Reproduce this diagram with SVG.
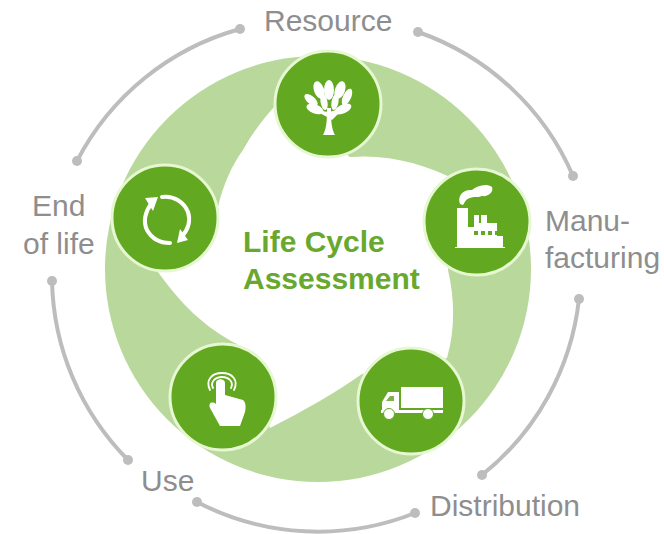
<svg xmlns="http://www.w3.org/2000/svg" width="664" height="534" viewBox="0 0 664 534">
<style>
.lbl{font-family:"Liberation Sans",Arial,sans-serif;font-size:30px;fill:#8e8e8e}
.title{font-family:"Liberation Sans",Arial,sans-serif;font-size:30px;font-weight:bold;fill:#69a82f}
.arc{fill:none;stroke:#bdbdbd;stroke-width:4;stroke-linecap:round}
.dot{fill:#bdbdbd}
.disc{fill:#62a820;stroke:#e6f7d2;stroke-width:3}
.ic{fill:#fff}
.icl{fill:none;stroke:#fff;stroke-linecap:round}
</style>
<rect width="664" height="534" fill="#fff"/>
<g id="ring">
<circle cx="318" cy="269" r="213" fill="#b9d89b"/>
<path fill="#fff" d="M350 157C390 154 425 164 460 182L448 270C455 300 455 330 447 358L362 374C335 393 305 410 270 428L237 344C205 328 180 303 158 272L218 207C223 185 232 165 243 150C253 132 265 116 279 102Z"/>
</g>
<g id="connectors">
<path class="arc" d="M418 32A262 262 0 0 1 573 176"/>
<path class="arc" d="M579 299A262 262 0 0 1 482 475"/>
<path class="arc" d="M415 513A262 262 0 0 1 197 502"/>
<path class="arc" d="M128 460A262 262 0 0 1 52 281"/>
<path class="arc" d="M77 161A262 262 0 0 1 240 29"/>
<g class="dot">
<circle cx="418" cy="32" r="5"/><circle cx="573" cy="176" r="5"/><circle cx="579" cy="299" r="5"/><circle cx="482" cy="475" r="5"/><circle cx="415" cy="513" r="5"/><circle cx="197" cy="502" r="5"/><circle cx="128" cy="460" r="5"/><circle cx="52" cy="281" r="5"/><circle cx="77" cy="161" r="5"/><circle cx="240" cy="29" r="5"/>
</g>
</g>
<g id="node-resource">
<circle class="disc" cx="328" cy="104" r="53"/>
<path class="ic" d="M323 135C327 128 327 118 327 108L331 108C331 118 331 128 335 135Z"/>
<path class="ic" d="M329 118L314 110L329 112L344 108L332 120Z"/>
<g class="ic">
<ellipse cx="329" cy="90" rx="5" ry="10"/><ellipse cx="319" cy="90" rx="5" ry="9" transform="rotate(-20 319 90)"/><ellipse cx="340" cy="90" rx="5" ry="9" transform="rotate(20 340 90)"/><ellipse cx="347" cy="97" rx="4" ry="9" transform="rotate(25 347 97)"/><ellipse cx="311" cy="100" rx="4" ry="8" transform="rotate(-50 311 100)"/><ellipse cx="315" cy="109" rx="4.500" ry="9" transform="rotate(-70 315 109)"/><ellipse cx="343" cy="109" rx="4.500" ry="9" transform="rotate(65 343 109)"/><ellipse cx="324" cy="102" rx="3.500" ry="8" transform="rotate(-10 324 102)"/><ellipse cx="335" cy="102" rx="3.500" ry="8" transform="rotate(10 335 102)"/>
</g>
</g>
<g id="node-manufacturing">
<circle class="disc" cx="477" cy="222" r="53"/>
<path class="ic" d="M457 247V208H468V247ZM455 247H505V248H455ZM468 247V227H474V215H484V215H487V223H497V236H503V247Z"/>
<path class="ic" d="M460 204C457 196 463 189 472 190C477 186 486 183 492 187C494 192 488 197 482 196C477 198 474 196 470 198C466 199 465 202 463 205Z"/>
<g fill="#62a820"><rect x="474" y="231" width="4" height="4"/><rect x="481" y="231" width="4" height="4"/><rect x="488" y="231" width="4" height="4"/><rect x="495" y="231" width="4" height="4"/><rect x="479" y="214" width="2" height="9"/></g>
</g>
<g id="node-distribution">
<circle class="disc" cx="411" cy="401" r="53"/>
<path class="ic" d="M401 387H443V408H401ZM382 411V402L388 392H399V411ZM381 410H443V413H381Z"/>
<path fill="#7fb04a" d="M386 401L390 396H394V401Z"/>
<circle class="ic" cx="389" cy="414" r="5.500" stroke="#62a820" stroke-width="1"/>
<circle class="ic" cx="428" cy="414" r="5.500" stroke="#62a820" stroke-width="1"/>
</g>
<g id="node-use">
<circle class="disc" cx="223" cy="397" r="53"/>
<path class="ic" d="M216 383C216 378 225 378 225 383V395L243 400C246 402 246 408 245 412L240 426H220L210 408C208 403 212 401 216 404Z"/>
<path class="icl" stroke-width="1.800" d="M210 390C205 380 212 373 222 373C232 373 239 380 234 390"/>
<path class="icl" stroke-width="1.800" d="M213 388C210 382 215 377 222 377C229 377 234 382 231 388"/>
</g>
<g id="node-end-of-life">
<circle class="disc" cx="165" cy="218" r="53"/>
<path class="icl" stroke-width="4" d="M151 204C145 212 143 222 147 230C152 239 160 243 170 243"/>
<path class="icl" stroke-width="4" d="M162 197C173 195 184 202 188 212C191 221 188 230 182 236"/>
<path class="ic" d="M145 198L158 197L153 211ZM177 243L188 240L180 229Z"/>
</g>
<g id="labels">
<text class="lbl" x="264" y="31">Resource</text>
<text class="lbl" x="545" y="231">Manu-</text>
<text class="lbl" x="545" y="268">facturing</text>
<text class="lbl" x="430" y="516">Distribution</text>
<text class="lbl" x="141" y="491">Use</text>
<text class="lbl" x="32" y="216">End</text>
<text class="lbl" x="23" y="254">of life</text>
<text class="title" x="243" y="252">Life Cycle</text>
<text class="title" x="243" y="289">Assessment</text>
</g>
</svg>
